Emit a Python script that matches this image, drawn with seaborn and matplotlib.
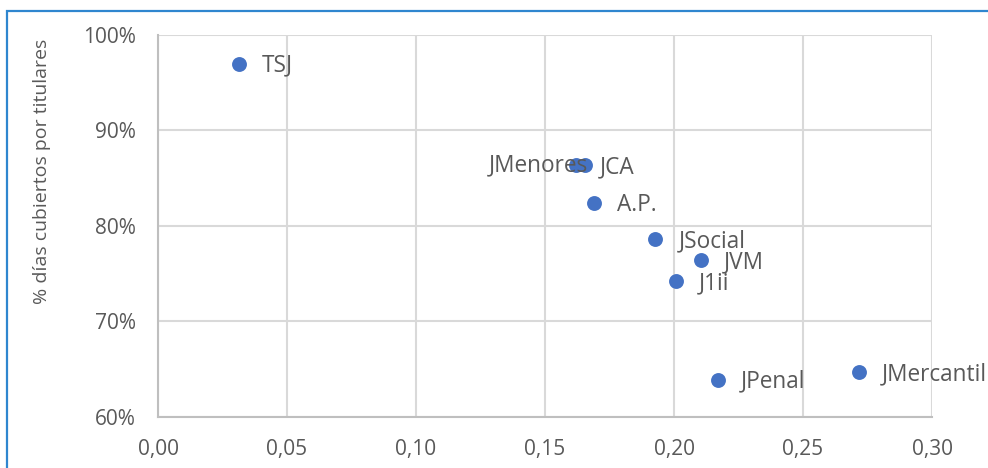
import pandas as pd
import seaborn as sns
import matplotlib.pyplot as plt
from matplotlib.patches import Rectangle
from matplotlib.ticker import FuncFormatter, MultipleLocator

sns.set_style("white")
plt.rcParams['font.family'] = ['Open Sans', 'DejaVu Sans']

# datos
organos = ["TSJ", "JMenores", "JCA", "A.P.", "JSocial", "JVM", "J1ii", "JPenal", "JMercantil"]
indice = [0.0315, 0.162, 0.1655, 0.169, 0.1928, 0.2105, 0.2008, 0.217, 0.2717]
pct_cubiertos = [0.970, 0.864, 0.864, 0.824, 0.786, 0.764, 0.742, 0.639, 0.647]

df = pd.DataFrame({"organo": organos, "x": indice, "y": pct_cubiertos})

gris = "#595959"
azul = "#4472C4"

fig = plt.figure(figsize=(9.88, 4.68), dpi=100)
ax = fig.add_axes([158 / 988, 1 - 417 / 468, 774 / 988, 382 / 468])

sns.scatterplot(data=df, x="x", y="y", s=115, color=azul, edgecolor=azul,
                linewidth=0, ax=ax, zorder=3)

# etiquetas de datos (desplazamiento en puntos)
offsets = {"JMenores": (9, 0, "right"), "JCA": (11, -1.5, "left")}
for _, r in df.iterrows():
    dx, dy, ha = offsets.get(r["organo"], (16.5, -1.5, "left"))
    ax.annotate(r["organo"], (r["x"], r["y"]), xytext=(dx, dy),
                textcoords="offset points", ha=ha, va="center",
                fontsize=16.3, color=gris, zorder=4)

ax.set_xlim(0, 0.30)
ax.set_ylim(0.60, 1.00)
ax.xaxis.set_major_locator(MultipleLocator(0.05))
ax.yaxis.set_major_locator(MultipleLocator(0.10))
ax.xaxis.set_major_formatter(FuncFormatter(lambda v, p: f"{v:.2f}".replace(".", ",")))
ax.yaxis.set_major_formatter(FuncFormatter(lambda v, p: f"{v * 100:.0f}%"))
ax.tick_params(axis="both", length=0, labelsize=15, labelcolor=gris)
ax.tick_params(axis="y", pad=16)
ax.tick_params(axis="x", pad=16)

ax.grid(True, color="#d9d9d9", linewidth=1.5, zorder=0)
ax.set_axisbelow(True)
for side in ["top", "right"]:
    ax.spines[side].set_visible(False)
for side in ["left", "bottom"]:
    ax.spines[side].set_color("#bfbfbf")
    ax.spines[side].set_linewidth(1.5)

ax.set_xlabel("")
ax.set_ylabel("")
fig.text(42 / 988, 1 - 171.5 / 468, "% días cubiertos por titulares", rotation=90,
         ha="center", va="center", fontsize=14, color=gris)

# marco azul del gráfico
fig.patches.append(Rectangle((7 / 988, -0.2), 1.2, 1.2 - 10.5 / 468,
                             transform=fig.transFigure, fill=False,
                             edgecolor="#2f86cf", linewidth=1.6))

fig.savefig("out.png", dpi=100)
